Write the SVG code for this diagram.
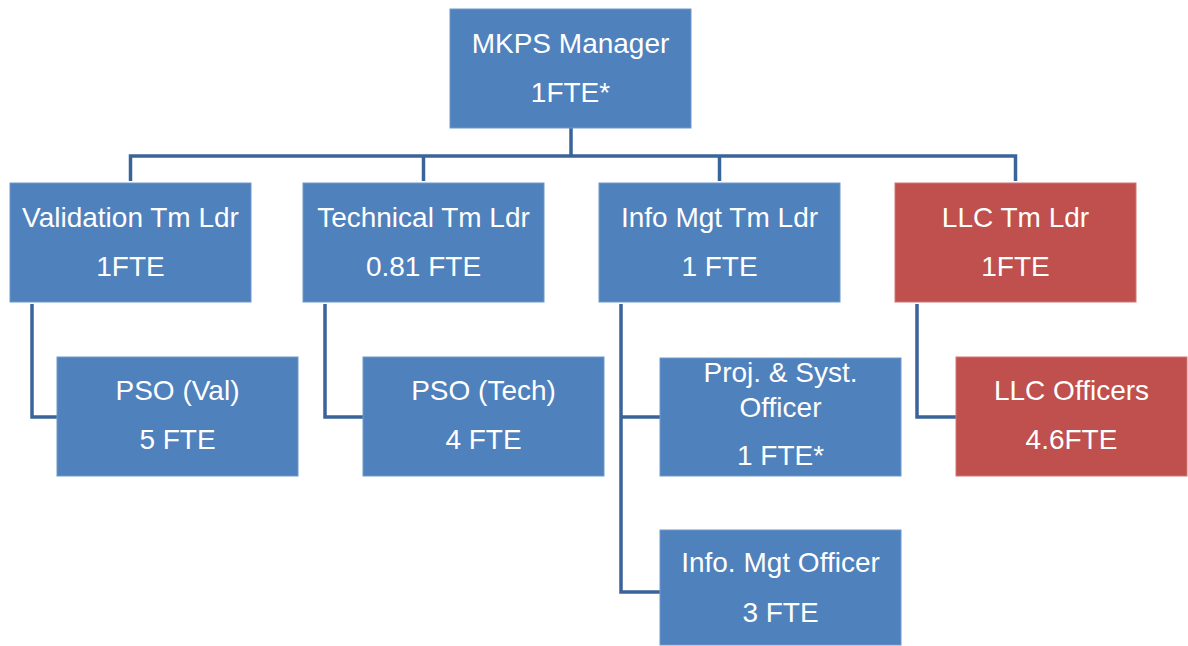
<svg xmlns="http://www.w3.org/2000/svg" width="1188" height="646" viewBox="0 0 1188 646">
<style>
.b{fill:#4f81bd;stroke:#6e97c9;stroke-width:1}
.r{fill:#c0504d;stroke:#d07774;stroke-width:1}
.t{font-family:"Liberation Sans",Arial,sans-serif;font-size:28px;fill:#ffffff;text-anchor:middle}
.c{fill:none;stroke:#3a6499;stroke-width:3.5;stroke-linejoin:miter}
</style>
<rect width="1188" height="646" fill="#ffffff"/>
<g id="connectors">
<path class="c" d="M571,128 V156"/>
<path class="c" d="M130.5,181 V156 H1015.5 V181"/>
<path class="c" d="M423.5,156 V181"/>
<path class="c" d="M719.5,156 V181"/>
<path class="c" d="M32,304 V417 H57"/>
<path class="c" d="M325,304 V417 H363"/>
<path class="c" d="M621,304 V592 H660"/>
<path class="c" d="M621,417 H660"/>
<path class="c" d="M917,304 V417 H956"/>
</g>
<g id="mkps-manager">
<rect class="b" x="450" y="9" width="241" height="119"/>
<text class="t" x="570.5" y="53">MKPS Manager</text>
<text class="t" x="570.5" y="102">1FTE*</text>
</g>
<g id="validation-tm-ldr">
<rect class="b" x="10" y="183" width="241" height="119"/>
<text class="t" x="130.5" y="227">Validation Tm Ldr</text>
<text class="t" x="130.5" y="276">1FTE</text>
</g>
<g id="technical-tm-ldr">
<rect class="b" x="303" y="183" width="241" height="119"/>
<text class="t" x="423.5" y="227">Technical Tm Ldr</text>
<text class="t" x="423.5" y="276">0.81 FTE</text>
</g>
<g id="info-mgt-tm-ldr">
<rect class="b" x="599" y="183" width="241" height="119"/>
<text class="t" x="719.5" y="227">Info Mgt Tm Ldr</text>
<text class="t" x="719.5" y="276">1 FTE</text>
</g>
<g id="llc-tm-ldr">
<rect class="r" x="895" y="183" width="241" height="119"/>
<text class="t" x="1015.5" y="227">LLC Tm Ldr</text>
<text class="t" x="1015.5" y="276">1FTE</text>
</g>
<g id="pso-val">
<rect class="b" x="57" y="357" width="241" height="119"/>
<text class="t" x="177.5" y="400">PSO (Val)</text>
<text class="t" x="177.5" y="449">5 FTE</text>
</g>
<g id="pso-tech">
<rect class="b" x="363" y="357" width="241" height="119"/>
<text class="t" x="483.5" y="400">PSO (Tech)</text>
<text class="t" x="483.5" y="449">4 FTE</text>
</g>
<g id="proj-syst-officer">
<rect class="b" x="660" y="358" width="241" height="118"/>
<text class="t" x="780.5" y="382">Proj. &amp; Syst.</text>
<text class="t" x="780.5" y="417">Officer</text>
<text class="t" x="780.5" y="465">1 FTE*</text>
</g>
<g id="info-mgt-officer">
<rect class="b" x="660" y="530" width="241" height="115"/>
<text class="t" x="780.5" y="572">Info. Mgt Officer</text>
<text class="t" x="780.5" y="622">3 FTE</text>
</g>
<g id="llc-officers">
<rect class="r" x="956" y="357" width="231" height="119"/>
<text class="t" x="1071.5" y="400">LLC Officers</text>
<text class="t" x="1071.5" y="449">4.6FTE</text>
</g>
</svg>
